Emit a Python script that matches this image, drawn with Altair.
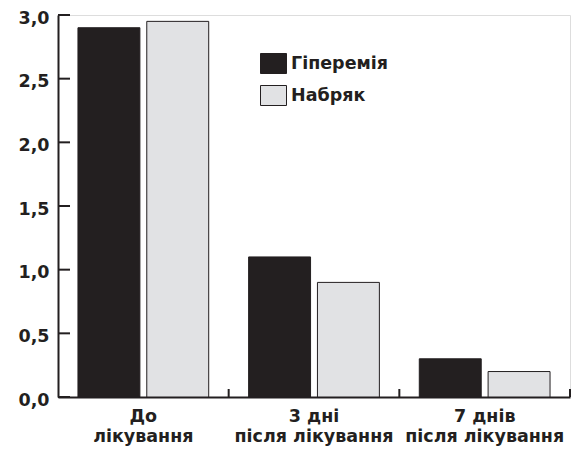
import altair as alt
import pandas as pd

categories = ["До|лікування", "3 дні|після лікування", "7 днів|після лікування"]
series = ["Гіперемія", "Набряк"]
hyperemia = [2.9, 1.1, 0.3]
edema = [2.95, 0.9, 0.2]
y_ticks = [0.0, 0.5, 1.0, 1.5, 2.0, 2.5, 3.0]

rows = []
for c, h, e in zip(categories, hyperemia, edema):
    rows.append({"cat": c, "series": series[0], "value": h})
    rows.append({"cat": c, "series": series[1], "value": e})
df = pd.DataFrame(rows)
ticks_df = pd.DataFrame({"t": y_ticks})
cat_df = pd.DataFrame({"cat": categories})

FONT = "DejaVu Sans"
INK = "#231f20"
W, H = 512, 382

xscale = alt.Scale(paddingInner=0, paddingOuter=0)
yscale = alt.Scale(domain=[0, 3])

bars = alt.Chart(df).mark_bar(stroke=INK, strokeWidth=1).encode(
    x=alt.X("cat:N", sort=categories, scale=xscale, title=None,
            axis=alt.Axis(labelExpr="split(datum.label, '|')", labelAngle=0,
                          ticks=False, labelPadding=10, labelLineHeight=20,
                          labelFontSize=17.5, labelFont=FONT, labelFontWeight="bold",
                          labelColor=INK, domainColor=INK, domainWidth=2,
                          labelBaseline="top")),
    xOffset=alt.XOffset("series:N", sort=series,
                        scale=alt.Scale(paddingInner=0.1, paddingOuter=0.29)),
    y=alt.Y("value:Q", scale=yscale, title=None,
            axis=alt.Axis(values=y_ticks, format=".1f",
                          labelExpr="replace(datum.label, '.', ',')",
                          ticks=False, grid=False, labelPadding=9, labelOffset=3,
                          labelFontSize=17.5, labelFont=FONT, labelFontWeight="bold",
                          labelColor=INK, domainColor=INK, domainWidth=2)),
    color=alt.Color("series:N", sort=series,
                    scale=alt.Scale(domain=series, range=[INK, "#e1e2e4"]),
                    legend=alt.Legend(title=None, orient="none", legendX=205, legendY=38,
                                      padding=0, symbolType="M-1.3,-1H1.3V1H-1.3Z",
                                      symbolSize=400, symbolStrokeColor=INK,
                                      symbolStrokeWidth=1, labelOffset=7, rowPadding=7,
                                      labelFontSize=17.5, labelFont=FONT,
                                      labelFontWeight="bold", labelColor=INK)),
)

yticks = alt.Chart(ticks_df).mark_rule(color=INK, strokeWidth=2).encode(
    y=alt.Y("t:Q", scale=yscale),
    x=alt.value(0),
    x2=alt.value(12),
)

xticks = alt.Chart(cat_df).mark_rule(color=INK, strokeWidth=2).encode(
    x=alt.X("cat:N", sort=categories, bandPosition=1, scale=xscale),
    y=alt.value(H - 8),
    y2=alt.value(H),
)

chart = alt.layer(bars, yticks, xticks).properties(
    width=W, height=H,
    autosize=alt.AutoSizeParams(type="none"),
    padding={"left": 50, "top": 7, "right": 1, "bottom": 56},
).configure_view(stroke=None).configure(background="white")

chart.save("out.html", embed_options={"renderer": "svg", "actions": False})
